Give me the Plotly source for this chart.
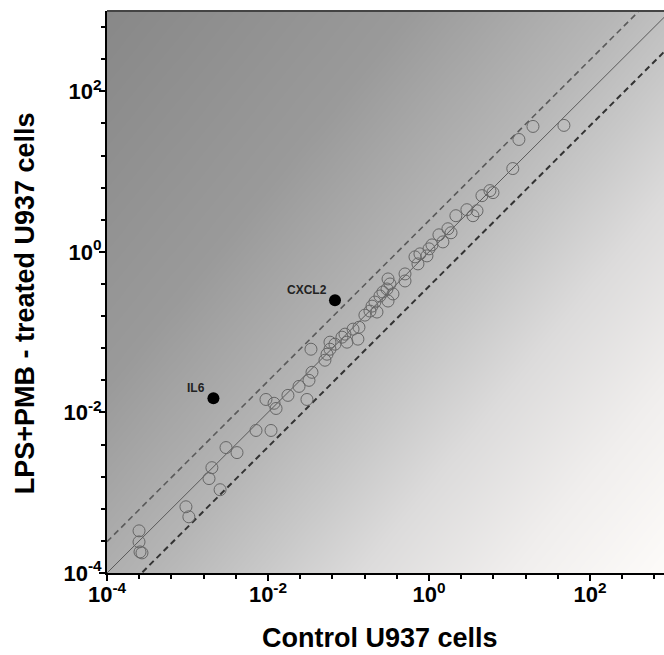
import numpy as np
import plotly.graph_objects as go

# ---- data ----
control = [2.50e-4, 2.50e-4, 2.57e-4, 2.72e-4, 9.57e-4, 1.04e-3, 2.01e-3, 1.85e-3, 2.54e-3, 3.01e-3,
           4.12e-3, 7.10e-3, 1.09e-2, 9.44e-3, 1.19e-2, 1.26e-2, 1.77e-2, 2.43e-2, 3.05e-2, 3.23e-2,
           3.52e-2, 3.42e-2, 5.10e-2, 5.41e-2, 5.89e-2, 5.89e-2, 6.79e-2, 8.30e-2, 9.05e-2, 9.58e-2,
           0.114, 0.135, 0.131, 0.160, 0.185, 0.196, 0.213, 0.226, 0.246, 0.268,
           0.301, 0.310, 0.328, 0.357, 0.310, 0.504, 0.504, 0.670, 0.730, 0.773,
           0.944, 1.00, 1.09, 1.33, 1.49, 1.72, 1.88, 2.16, 2.96, 3.52,
           3.95, 4.55, 5.72, 6.24, 11.0, 13.1, 19.6, 47.5]
treated = [3.35e-4, 2.44e-4, 1.83e-4, 1.78e-4, 6.68e-4, 5.01e-4, 2.05e-3, 1.50e-3, 1.09e-3, 3.65e-3,
           3.16e-3, 5.96e-3, 5.96e-3, 1.45e-2, 1.30e-2, 1.12e-2, 1.63e-2, 2.11e-2, 1.45e-2, 2.51e-2,
           3.16e-2, 6.13e-2, 4.47e-2, 5.31e-2, 7.50e-2, 6.13e-2, 7.08e-2, 8.66e-2, 9.44e-2, 7.50e-2,
           0.109, 0.115, 8.18e-2, 0.163, 0.183, 0.211, 0.237, 0.178, 0.282, 0.316,
           0.345, 0.244, 0.398, 0.299, 0.460, 0.531, 0.434, 0.866, 0.708, 0.944,
           0.891, 1.09, 1.22, 1.63, 1.33, 1.94, 1.73, 2.82, 3.35, 2.82,
           3.25, 5.01, 5.79, 5.47, 10.9, 25.1, 36.5, 37.6]

hl_genes = ["IL6", "CXCL2"]
hl_control = [2.1e-3, 6.8e-2]
hl_treated = [1.5e-2, 0.25]

upper_ratio = 10 ** 0.39   # upper dashed bound
lower_ratio = 10 ** -0.43  # lower dashed bound

x_range = [-4, 2.92]
y_range = [-4, 3.0]
major_ticks = [1e-4, 1e-2, 1e0, 1e2]
major_text = ["10<sup>-4</sup>", "10<sup>-2</sup>", "10<sup>0</sup>", "10<sup>2</sup>"]
minor_ticks = [10 ** (-4 + 0.4 * k) for k in range(0, 19)]

FONT = "Liberation Sans, Arial, sans-serif"

fig = go.Figure()

# background gradient (styling only)
gx = np.linspace(x_range[0], x_range[1], 80)
gy = np.linspace(y_range[0], y_range[1], 80)
U = (gx - x_range[0]) / (x_range[1] - x_range[0])
V = (y_range[1] - gy) / (y_range[1] - y_range[0])
Z = 0.55 * U[None, :] + 0.45 * V[:, None]
fig.add_trace(go.Heatmap(
    x=10 ** gx, y=10 ** gy, z=Z, zmin=0, zmax=1, zsmooth="best", showscale=False,
    hoverinfo="skip",
    colorscale=[[0, "rgb(136,136,136)"], [0.3, "rgb(154,154,154)"], [0.5, "rgb(182,182,182)"],
                [0.6, "rgb(200,200,200)"], [0.7, "rgb(220,219,219)"], [0.85, "rgb(240,238,237)"],
                [1, "rgb(253,251,249)"]],
))

lx = [10 ** x_range[0], 10 ** 3.5]
fig.add_trace(go.Scatter(x=lx, y=lx, mode="lines",
                         line=dict(color="#5a5a5a", width=1), hoverinfo="skip"))
fig.add_trace(go.Scatter(x=lx, y=[v * upper_ratio for v in lx], mode="lines",
                         line=dict(color="#5a5a5a", width=1.6, dash="6px,4px"), hoverinfo="skip"))
fig.add_trace(go.Scatter(x=lx, y=[v * lower_ratio for v in lx], mode="lines",
                         line=dict(color="#333333", width=2, dash="6px,4px"), hoverinfo="skip"))

fig.add_trace(go.Scatter(x=control, y=treated, mode="markers",
                         marker=dict(symbol="circle-open", size=12,
                                     line=dict(color="#666666", width=1), color="#666666")))
fig.add_trace(go.Scatter(x=hl_control, y=hl_treated, mode="markers",
                         marker=dict(symbol="circle", size=12, color="black")))

for g, xv, yv in zip(hl_genes, hl_control, hl_treated):
    fig.add_annotation(x=np.log10(xv), y=np.log10(yv), text="<b>" + g + "</b>", showarrow=False,
                       xanchor="right", yanchor="middle", xshift=-6, yshift=10,
                       font=dict(family=FONT, size=12, color="#222222"))

axis_common = dict(
    type="log", showgrid=False, zeroline=False, showline=True, linecolor="black", linewidth=2,
    ticks="outside", ticklen=6, tickwidth=2, tickcolor="black", automargin=False,
    tickvals=major_ticks, ticktext=major_text,
    tickfont=dict(family=FONT, size=22, color="black", weight="bold"),
    minor=dict(tickvals=minor_ticks, ticks="outside", ticklen=4, tickwidth=1.5, tickcolor="black"),
)

fig.update_layout(
    width=664, height=655,
    margin=dict(l=107, r=0, t=11, b=82),
    paper_bgcolor="white", plot_bgcolor="white",
    showlegend=False,
    xaxis=dict(range=x_range, **axis_common),
    yaxis=dict(range=y_range, **axis_common),
)
fig.update_yaxes(ticklabelstandoff=-7)
fig.update_xaxes(ticklabelstandoff=-5)

fig.add_shape(type="line", xref="paper", yref="paper", x0=0, x1=1, y0=1, y1=1,
              line=dict(color="#444444", width=2))

fig.add_annotation(xref="paper", yref="paper", x=0.49, y=-0.115, text="<b>Control U937 cells</b>",
                   showarrow=False, xanchor="center", yanchor="middle",
                   font=dict(family=FONT, size=27, color="black"))
fig.add_annotation(xref="paper", yref="paper", x=-0.148, y=0.479,
                   text="<b>LPS+PMB - treated U937 cells</b>", textangle=-90,
                   showarrow=False, xanchor="center", yanchor="middle",
                   font=dict(family=FONT, size=27, color="black"))

fig.write_html("out.html", config={"displayModeBar": False},
               post_script="document.body.style.margin='0';document.body.style.overflow='hidden';")
